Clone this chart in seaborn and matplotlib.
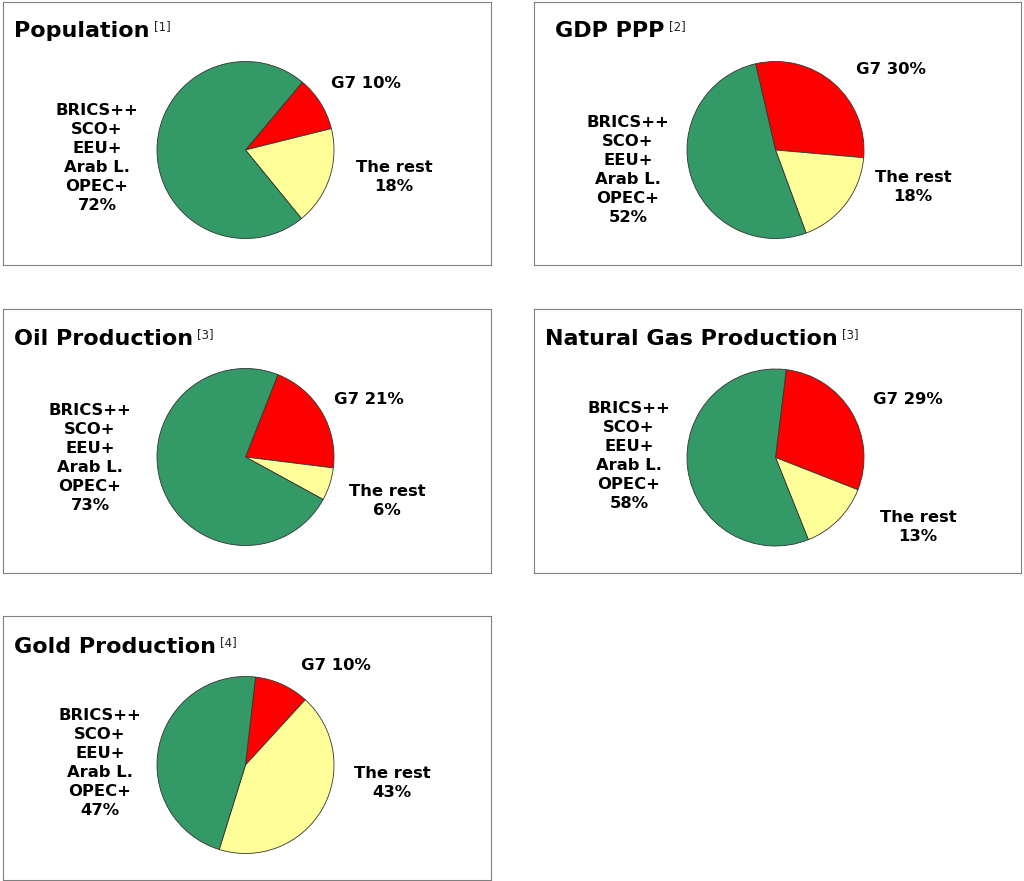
import matplotlib
matplotlib.use("Agg")
import matplotlib.pyplot as plt
import seaborn as sns

# data
charts = ['Population', 'GDP PPP', 'Oil Production', 'Natural Gas Production', 'Gold Production']
refs = ['[1]', '[2]', '[3]', '[3]', '[4]']
g7 = [10, 30, 21, 29, 10]
rest = [18, 18, 6, 13, 43]
brics = [72, 52, 73, 58, 47]
bloc_name = 'BRICS++\nSCO+\nEEU+\nArab L.\nOPEC+'

colors = ['#ff0000', '#ffff99', '#339966']
start_angles = [50, 103, 68.5, 83, 83.5]

# panel boxes in pixels (left, top, width, height)
panels = [(3, 2, 488, 263), (534, 2, 487, 263),
          (3, 309, 488, 264), (534, 309, 487, 264),
          (3, 616, 488, 264)]
# layout inside each panel (pixels from the panel's top-left)
title_pos = [(11, 35), (21, 35), (11, 36), (11, 36), (11, 37)]
pie_pos = [(242.5, 148), (241.5, 148), (242.5, 148), (241.5, 148.5), (242.5, 149)]
g7_pos = [(363, 81), (357, 68), (366, 91), (374, 90), (333, 49)]
rest_pos = [(391, 175), (379, 185), (384, 192), (384, 218), (389, 167)]
bloc_pos = [(94, 156), (94, 168), (87, 149), (95, 147), (97, 147)]
R = 88.5

sns.set_theme(style='white')
plt.rcParams['font.family'] = ['DejaVu Sans']

W, H = 1024, 881
fig = plt.figure(figsize=(W / 100, H / 100), dpi=100)
fig.patch.set_facecolor('white')

for i, name in enumerate(charts):
    x0, y0, w, h = panels[i]
    ax = fig.add_axes([x0 / W, 1 - (y0 + h) / H, w / W, h / H])
    cx, cy = pie_pos[i]
    ax.pie([g7[i], rest[i], brics[i]], colors=colors, startangle=start_angles[i],
           counterclock=False, center=(cx, h - cy), radius=R, frame=True,
           wedgeprops=dict(edgecolor='#333333', linewidth=0.6))
    ax.set_xlim(0, w)
    ax.set_ylim(0, h)
    ax.set_aspect('auto')
    ax.set_xticks([])
    ax.set_yticks([])
    ax.set_facecolor('white')
    for sp in ax.spines.values():
        sp.set_visible(True)
        sp.set_color('#808080')
        sp.set_linewidth(0.8)

    tx, ty = title_pos[i]
    t = ax.text(tx, h - ty, name, fontsize=16, fontweight='bold', color='black',
                ha='left', va='baseline')
    ax.annotate(refs[i], xy=(1, 1), xycoords=t, xytext=(3, 1), textcoords='offset points',
                fontsize=8.5, color='#222222', ha='left', va='top')

    lab = dict(fontsize=11.8, fontweight='bold', color='black', ha='center', va='center',
               linespacing=1.34)
    gx, gy = g7_pos[i]
    ax.text(gx, h - gy, f'G7 {g7[i]}%', **lab)
    rx, ry = rest_pos[i]
    ax.text(rx, h - ry, f'The rest\n{rest[i]}%', **lab)
    bx, by = bloc_pos[i]
    ax.text(bx, h - by, f'{bloc_name}\n{brics[i]}%', **lab)

fig.savefig('out.png', dpi=100, facecolor='white')
